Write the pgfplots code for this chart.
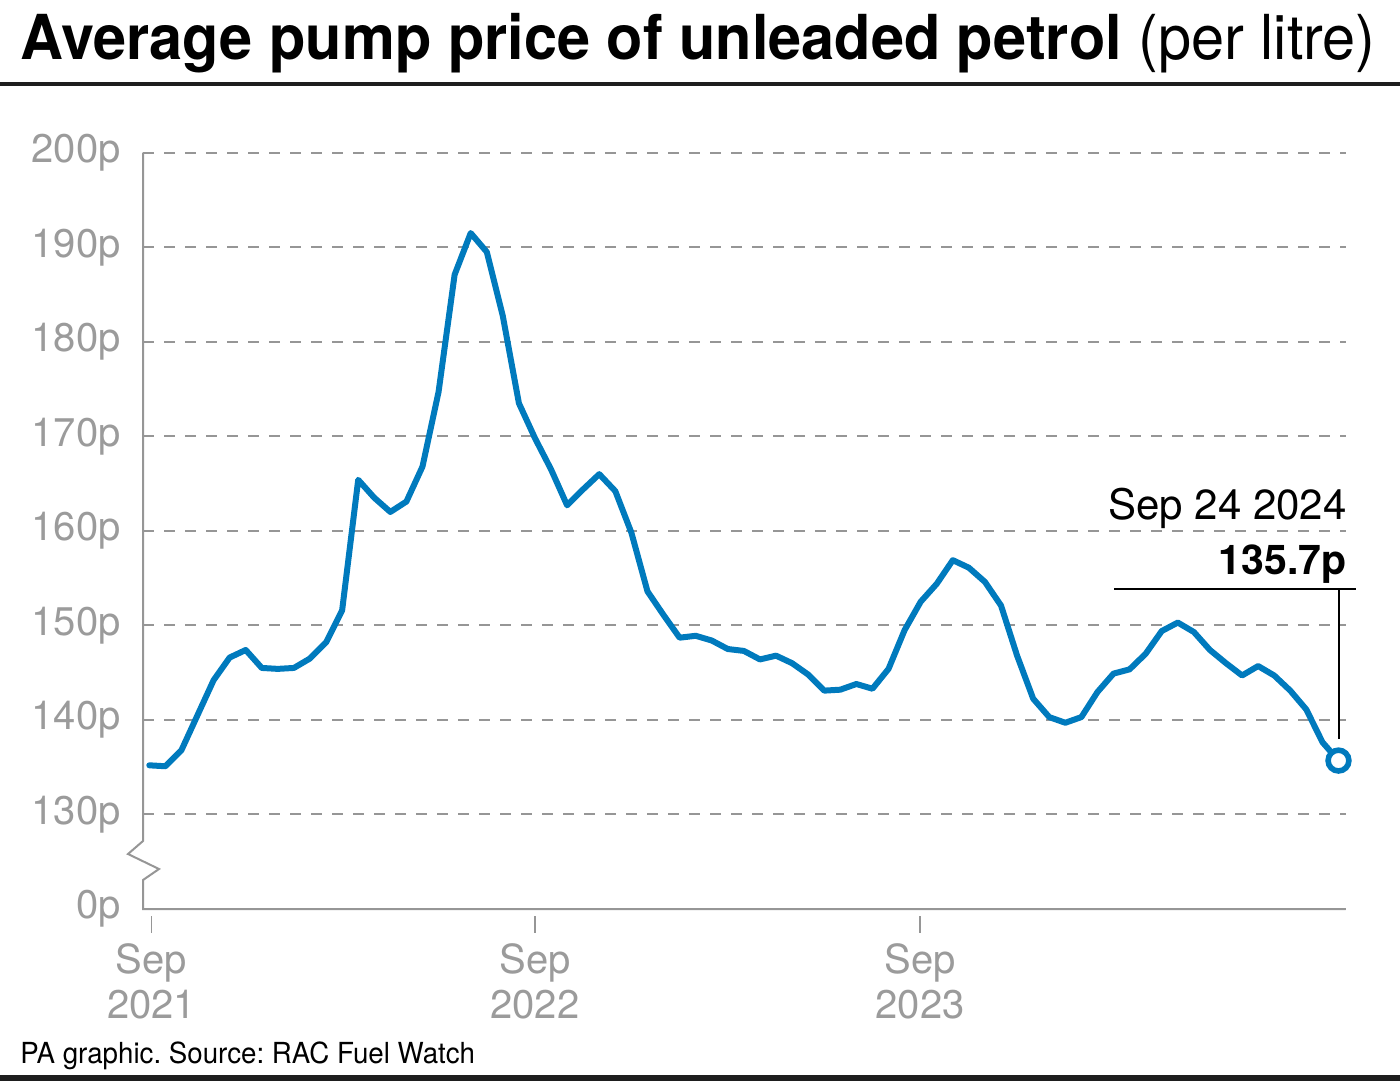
\documentclass[border=0pt]{standalone}
\usepackage{pgfplots}
\pgfplotsset{compat=1.18}
\usepackage{fontspec}
\setmainfont{TeX Gyre Heros}
\definecolor{lineblue}{RGB}{0,122,189}
\definecolor{txtgray}{RGB}{155,155,155}
\definecolor{axgray}{RGB}{150,150,150}
\definecolor{rulec}{RGB}{30,30,30}
\frenchspacing

\begin{document}
\begin{tikzpicture}
\useasboundingbox (0pt,0pt) rectangle (700pt,-542.5pt);
% title
\node[anchor=base west, inner sep=0pt] at (10pt,-30pt)
  {\scalebox{0.959}[1]{\fontsize{31}{36}\selectfont\bfseries Average pump price of unleaded petrol \mdseries(per litre)}};
\draw[line width=2pt, rulec] (0pt,-42pt) -- (700pt,-42pt);

\begin{axis}[
  at={(71.5pt,-454.5pt)}, anchor=south west,
  scale only axis, width=601.35pt, height=378.15pt,
  xmin=-0.392, xmax=74.45, ymin=120, ymax=200,
  clip=false,
  axis line style={draw=none},
  major tick length=0pt,
  ytick={120,130,140,150,160,170,180,190,200},
  yticklabels={0p,130p,140p,150p,160p,170p,180p,190p,200p},
  yticklabel style={anchor=east, inner sep=0pt, xshift=-11pt, text=txtgray,
    font=\fontsize{20}{24}\selectfont},
  xtick={0.14,24.0,47.96},
  xticklabels={{Sep\\2021},{Sep\\2022},{Sep\\2023}},
  xticklabel style={anchor=north, align=center, inner sep=0pt, yshift=-17pt, text=txtgray,
    font=\fontsize{20}{22.4}\selectfont},
  /pgf/number format/assume math mode=true,
  ymajorgrids,
  grid style={axgray, line width=1pt, dash pattern=on 5.5pt off 5pt},
]
\addplot[lineblue, line width=3pt, line join=round, line cap=round] table {
x y
0 135.2
1 135.1
2 136.8
3 140.5
4 144.2
5 146.6
6 147.4
7 145.5
8 145.4
9 145.5
10 146.5
11 148.2
12 151.6
13 165.4
14 163.5
15 162.0
16 163.1
17 166.8
18 174.7
19 187.1
20 191.5
21 189.5
22 182.7
23 173.5
24 169.8
25 166.5
26 162.7
27 164.4
28 166.0
29 164.2
30 159.8
31 153.6
32 151.1
33 148.7
34 148.9
35 148.4
36 147.5
37 147.3
38 146.4
39 146.8
40 146.0
41 144.8
42 143.1
43 143.2
44 143.8
45 143.3
46 145.4
47 149.5
48 152.5
49 154.4
50 156.9
51 156.1
52 154.6
53 152.1
54 146.8
55 142.25
56 140.3
57 139.7
58 140.3
59 142.95
60 144.9
61 145.35
62 147.0
63 149.4
64 150.3
65 149.3
66 147.4
67 146.0
68 144.7
69 145.7
70 144.7
71 143.1
72 141.1
73 137.65
74 135.7
};
\addplot[only marks, mark=*, mark size=5.2pt,
  mark options={draw=lineblue, fill=white, line width=2.8pt}] coordinates {(74,135.7)};
\end{axis}

% axes with broken y axis
\draw[axgray, line width=1pt, line join=miter]
  (71.5pt,-76.35pt) -- (71.5pt,-420.5pt) -- (64pt,-427pt) -- (79.5pt,-434.5pt)
  -- (71.5pt,-440pt) -- (71.5pt,-454.5pt) -- (672.85pt,-454.5pt);
% detached x ticks
\foreach \xx in {75.75,267.5,460} {
  \draw[axgray, line width=0.8pt] (\xx pt,-458pt) -- (\xx pt,-466.5pt);
}

% annotation
\node[anchor=base east, inner sep=0pt] at (673.5pt,-259.65pt)
  {\fontsize{21}{25}\selectfont Sep 24 2024};
\node[anchor=base east, inner sep=0pt] at (673.5pt,-287.15pt)
  {\fontsize{20.5}{25}\selectfont\bfseries 135.7p};
\draw[line width=0.75pt, black] (557.15pt,-294.5pt) -- (677.85pt,-294.5pt);
\draw[line width=0.75pt, black] (669.5pt,-294.5pt) -- (669.5pt,-369.65pt);

% source
\node[anchor=base west, inner sep=0pt] at (10pt,-531.5pt)
  {\scalebox{0.955}[1]{\fontsize{14.5}{17}\selectfont PA graphic. Source: RAC Fuel Watch}};
\draw[line width=3pt, rulec] (0pt,-539pt) -- (700pt,-539pt);
\end{tikzpicture}
\end{document}
